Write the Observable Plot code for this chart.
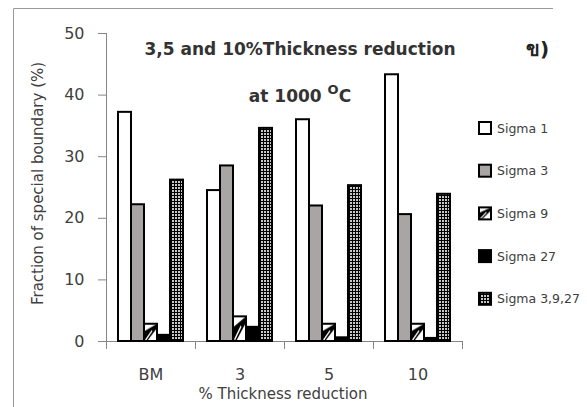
<!DOCTYPE html>
<html><head><meta charset="utf-8">
<script src="https://cdn.jsdelivr.net/npm/d3@7"></script>
<script src="https://cdn.jsdelivr.net/npm/@observablehq/plot@0.6"></script>
<style>
html,body{margin:0;padding:0;background:#fff;}
#chart{position:relative;width:587px;height:407px;overflow:hidden;}
</style>
</head><body><div id="chart"></div>
<script>
// ---- data ----
const categories = ["BM", "3", "5", "10"];
const series = ["Sigma 1", "Sigma 3", "Sigma 9", "Sigma 27", "Sigma 3,9,27"];
const sigma1 = [37.2, 24.5, 36.0, 43.3];
const sigma3 = [22.2, 28.5, 22.0, 20.6];
const sigma9 = [2.8, 4.0, 2.8, 2.8];
const sigma27 = [1.0, 2.3, 0.6, 0.5];
const sigma3927 = [26.2, 34.6, 25.3, 23.9];
const yTicks = [0, 10, 20, 30, 40, 50];
const titleLine1 = "3,5 and 10%Thickness reduction";
const yLabel = "Fraction of special boundary (%)";
const xLabel = "% Thickness reduction";

// ---- styling ----
const fills = ["#ffffff", "#a9a5a5", "url(#pat-s9)", "#000000", "url(#pat-s3927)"];
const W = 587, H = 407, mL = 106, mR = 125, mT = 33, mB = 66, groupInset = 10.5;
const font = "'DejaVu Sans', sans-serif";
const ink = "#404040", axisGray = "#868686";

const seriesValues = [sigma1, sigma3, sigma9, sigma27, sigma3927];
const rows = [];
categories.forEach((c, ci) => series.forEach((s, si) =>
  rows.push({category: c, series: s, value: seriesValues[si][ci]})));

const svg = Plot.plot({
  width: W, height: H,
  marginLeft: mL, marginRight: mR, marginTop: mT, marginBottom: mB,
  style: {fontFamily: font, color: ink, background: "transparent", overflow: "visible"},
  fx: {domain: categories, padding: 0, label: null},
  x: {domain: series, padding: 0, inset: groupInset, axis: null},
  y: {domain: [0, 50], label: null},
  color: {type: "ordinal", domain: series, range: fills},
  marks: [
    Plot.ruleY([0], {stroke: axisGray, strokeWidth: 1}),
    Plot.barY(rows, {fx: "category", x: "series", y: "value", fill: "series", stroke: "#000", strokeWidth: 2}),
    Plot.axisY({ticks: yTicks, tickSize: 8, tickPadding: 14, stroke: axisGray, fill: ink, fontSize: 16, label: null}),
    Plot.axisFx({anchor: "bottom", tickSize: 0, tickPadding: 27, fontSize: 16, fill: ink, label: null})
  ]
});

const root = d3.select(svg);
// patterns
const defs = root.insert("defs", ":first-child");
const p9 = defs.append("pattern").attr("id", "pat-s9")
  .attr("patternUnits", "objectBoundingBox").attr("patternContentUnits", "objectBoundingBox")
  .attr("width", 1).attr("height", 1);
p9.append("rect").attr("width", 1).attr("height", 1).attr("fill", "#fff");
p9.append("polygon").attr("points", "0,0.45 0,1 0.25,1 1,0.25 1,0.0").attr("fill", "#000");
p9.append("line").attr("x1", 0.12).attr("y1", 0.95).attr("x2", 0.62).attr("y2", 0.4)
  .attr("stroke", "#fff").attr("stroke-width", 0.09);
const p3 = defs.append("pattern").attr("id", "pat-s3927")
  .attr("patternUnits", "userSpaceOnUse").attr("width", 3).attr("height", 3);
p3.append("rect").attr("width", 3).attr("height", 3).attr("fill", "#000");
p3.append("rect").attr("x", 1).attr("y", 1).attr("width", 2).attr("height", 2).attr("fill", "#c8c8c8");

// axis lines & boundary ticks from Plot's own scales
const yS = svg.scale("y"), fxS = svg.scale("fx");
const y0 = yS.apply(0), yTop = yS.apply(d3.max(yTicks));
const deco = root.append("g").attr("stroke", axisGray).attr("stroke-width", 1);
deco.append("line").attr("x1", mL + 0.5).attr("x2", mL + 0.5).attr("y1", yTop).attr("y2", y0);
const bounds = categories.map(c => fxS.apply(c));
bounds.push(fxS.apply(categories[categories.length - 1]) + fxS.bandwidth);
bounds.forEach(bx => deco.append("line").attr("x1", bx + 0.5).attr("x2", bx + 0.5).attr("y1", y0).attr("y2", y0 + 8));

// texts
const txt = root.append("g").attr("font-family", font).attr("text-anchor", "start");
txt.append("text").attr("x", 300).attr("y", 55).attr("text-anchor", "middle")
  .attr("font-size", 17).attr("font-weight", "bold").attr("fill", "#333").text(titleLine1);
const t2 = txt.append("text").attr("x", 300).attr("y", 102).attr("text-anchor", "middle")
  .attr("font-size", 17).attr("font-weight", "bold").attr("fill", "#333");
t2.append("tspan").text("at 1000 ");
t2.append("tspan").attr("font-size", 13).attr("dy", -8).text("O");
t2.append("tspan").attr("dy", 8).text("C");
txt.append("text").attr("x", 526).attr("y", 56).attr("text-anchor", "start").attr("font-size", 20)
  .attr("font-weight", "bold").attr("fill", "#222").text("ข)");
txt.append("text").attr("transform", "translate(43,183.5) rotate(-90)").attr("text-anchor", "middle")
  .attr("font-size", 15).attr("fill", ink).text(yLabel);
txt.append("text").attr("x", 283).attr("y", 399).attr("text-anchor", "middle")
  .attr("font-size", 15).attr("fill", ink).text(xLabel);

// legend
const leg = root.append("g").attr("font-family", font).attr("text-anchor", "start");
series.forEach((s, i) => {
  const cy = 128 + i * 42.7;
  leg.append("rect").attr("x", 479).attr("y", cy - 6).attr("width", 12).attr("height", 12)
    .attr("fill", fills[i]).attr("stroke", "#000").attr("stroke-width", 2);
  leg.append("text").attr("x", 497).attr("y", cy + 4.5).attr("text-anchor", "start")
    .attr("font-size", 12.5).attr("fill", ink).text(s);
});

// outer border
root.append("path").attr("d", "M13.5,407 V8.5 H553").attr("fill", "none").attr("stroke", "#9a9a9a").attr("stroke-width", 1);

document.getElementById("chart").appendChild(svg);
</script>
</body></html>
